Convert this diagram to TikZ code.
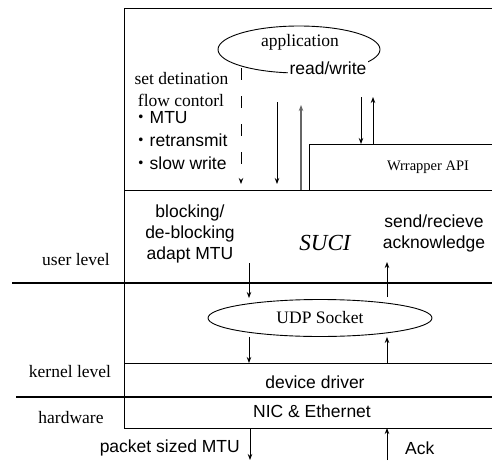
\documentclass[tikz,border=0pt]{standalone}
\usepackage{fontspec}
\setmainfont{Liberation Serif}
\setsansfont{Liberation Sans}
\newfontfamily\cjk{Noto Sans CJK JP}
\usetikzlibrary{arrows.meta,shapes.geometric}
\begin{document}
\begin{tikzpicture}[x=1pt,y=-1pt,
  thin line/.style={line width=0.9pt},
  thick line/.style={line width=1.8pt},
  arr/.style={line width=0.9pt,-{Stealth[length=6pt,width=4.5pt]}},
  serif txt/.style={font=\fontsize{17.5}{21}\selectfont\rmfamily,inner sep=0pt},
  sans txt/.style={font=\fontsize{17.5}{21}\selectfont\sffamily,inner sep=0pt},
  oval/.style={ellipse,draw,line width=0.9pt,inner sep=0pt}]
\useasboundingbox (0,0) rectangle (492,460);
% frame lines
\coordinate (tl) at (124,8);
\coordinate (tr) at (492,8);
\coordinate (bl) at (124,428);
\coordinate (br) at (492,428);
\draw[thin line] (tr) -- (tl) -- (bl) -- (br);
\coordinate (w1) at (309,190);
\coordinate (w2) at (309,144);
\coordinate (w3) at (492,144);
\draw[thin line] (w1) -- (w2) -- (w3);
\coordinate (l1a) at (124,190); \coordinate (l1b) at (492,190);
\draw[thin line] (l1a) -- (l1b);
\coordinate (l2a) at (12,283); \coordinate (l2b) at (492,283);
\draw[thick line] (l2a) -- (l2b);
\coordinate (l3a) at (124,363); \coordinate (l3b) at (492,363);
\draw[thin line] (l3a) -- (l3b);
\coordinate (l4a) at (16,397); \coordinate (l4b) at (492,397);
\draw[thick line] (l4a) -- (l4b);
% application
\node[oval,minimum width=162pt,minimum height=47pt] (app) at (299,49.5) {};
\node[serif txt] (apptxt) at (300,42) {application};
\node[sans txt,fill=white,inner sep=1.5pt] (rw) at (328,68) {read/write};
% left texts
\node[serif txt] (sd) at (181.5,79) {set detination};
\node[serif txt] (fc) at (181,100) {flow contorl};
\node[sans txt,anchor=west] (b1) at (132,118) {{\cjk ・}MTU};
\node[sans txt,anchor=west] (b2) at (132,140) {{\cjk ・}retransmit};
\node[sans txt,anchor=west] (b3) at (132,163) {{\cjk ・}slow write};
\node[serif txt,font=\fontsize{14.5}{16}\selectfont\rmfamily] (wapi) at (428,167) {Wrrapper API};
% top arrows
\coordinate (d1s) at (241,68); \coordinate (d1e) at (241,184);
\draw[arr,dash pattern=on 12pt off 16pt] (d1s) -- (d1e);
\coordinate (d2s) at (277,102); \coordinate (d2e) at (277,184);
\draw[arr] (d2s) -- (d2e);
\coordinate (u1s) at (301,190); \coordinate (u1e) at (301,105);
\draw[arr,draw=black!60,fill=black!60,line width=1.3pt] (u1s) -- (u1e);
\coordinate (d3s) at (361,97); \coordinate (d3e) at (361,144);
\draw[arr] (d3s) -- (d3e);
\coordinate (u2s) at (373,144); \coordinate (u2e) at (373,97);
\draw[arr] (u2s) -- (u2e);
% SUCI section
\node[sans txt,align=center] (blk) at (190,234) {blocking/\\de-blocking\\adapt MTU};
\node[serif txt,font=\fontsize{23}{26}\selectfont\rmfamily\itshape] (suci) at (325,243) {SUCI};
\node[sans txt,align=center] (sr) at (434,233) {send/recieve\\acknowledge};
\node[serif txt] (ul) at (76,260) {user level};
\coordinate (a1s) at (249,263); \coordinate (a1e) at (249,298);
\draw[arr] (a1s) -- (a1e);
\coordinate (a2s) at (387,297); \coordinate (a2e) at (387,262);
\draw[arr] (a2s) -- (a2e);
% UDP
\node[oval,minimum width=224pt,minimum height=37pt] (udp) at (320,318) {};
\node[serif txt] (udptxt) at (320,318) {UDP Socket};
\draw[arr] (udp.south -| a1s) -- (l3a -| a1s);
\draw[arr] (l3a -| a2s) -- (udp.south -| a2s);
% kernel / hardware
\node[serif txt] (kl) at (70,372) {kernel level};
\node[sans txt] (dd) at (315,382) {device driver};
\node[serif txt] (hw) at (71,418) {hardware};
\node[sans txt] (nic) at (312,411) {NIC \& Ethernet};
% bottom
\coordinate (p1s) at (250,428); \coordinate (p1e) at (250,460);
\draw[arr] (p1s) -- (p1e);
\coordinate (p2s) at (387,460); \coordinate (p2e) at (387,428);
\draw[arr] (p2s) -- (p2e);
\node[sans txt,anchor=east] (psm) at (240,448) {packet sized MTU};
\node[sans txt,anchor=west] (ack) at (405,448) {Ack};
\end{tikzpicture}
\end{document}
